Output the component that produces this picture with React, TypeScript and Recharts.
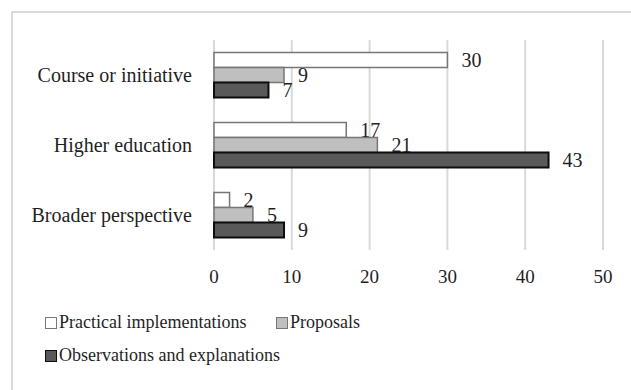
import React from 'react';
import { BarChart, Bar, XAxis, YAxis, CartesianGrid, LabelList } from 'recharts';

const categories = ['Course or initiative', 'Higher education', 'Broader perspective'];
const practical = [30, 17, 2];
const proposals = [9, 21, 5];
const observations = [7, 43, 9];
const xTicks = [0, 10, 20, 30, 40, 50];

const data = categories.map((name, i) => ({
  name,
  practical: practical[i],
  proposals: proposals[i],
  observations: observations[i],
}));

const font = '"Liberation Serif", "Times New Roman", serif';
const textColor = '#1f1f1f';

const series = [
  { key: 'practical', label: 'Practical implementations', fill: '#ffffff', stroke: '#767676' },
  { key: 'proposals', label: 'Proposals', fill: '#bfbfbf', stroke: '#767676' },
  { key: 'observations', label: 'Observations and explanations', fill: '#595959', stroke: '#0d0d0d' },
];

function LegendItem({ s, left, top }: { s: typeof series[number]; left: number; top: number }) {
  return (
    <div style={{ position: 'absolute', left, top, display: 'flex', alignItems: 'center', fontFamily: font, fontSize: 18, color: textColor, whiteSpace: 'nowrap' }}>
      <span style={{ display: 'inline-block', width: 10, height: 10, background: s.fill, border: `1px solid ${s.stroke}`, marginRight: 2 }} />
      {s.label}
    </div>
  );
}

export default function App() {
  return (
    <div style={{ position: 'absolute', left: 0, top: 0, width: 631, height: 390, overflow: 'hidden', background: '#fff', fontFamily: font }}>
      <div style={{ position: 'absolute', left: 11, top: 11, width: 660, height: 420, border: '2px solid #d9d9d9', boxSizing: 'border-box' }} />
      <div style={{ position: 'absolute', left: 0, top: 0 }}>
        <BarChart
          width={631}
          height={300}
          data={data}
          layout="vertical"
          margin={{ top: 40, right: 28, bottom: 0, left: 0 }}
          barCategoryGap="18%"
          barGap={0}
        >
          <CartesianGrid horizontal={false} stroke="#d9d9d9" strokeWidth={2} />
          <XAxis
            type="number"
            domain={[0, 50]}
            ticks={xTicks}
            axisLine={false}
            tickLine={false}
            height={50}
            tickMargin={14}
            tick={{ fontFamily: font, fontSize: 19, fill: textColor }}
          />
          <YAxis
            type="category"
            dataKey="name"
            width={214}
            axisLine={false}
            tickLine={false}
            tickMargin={16}
            tick={{ fontFamily: font, fontSize: 20, fill: textColor }}
          />
          {series.map((s) => (
            <Bar
              key={s.key}
              dataKey={s.key}
              name={s.label}
              fill={s.fill}
              stroke={s.stroke}
              strokeWidth={s.key === 'observations' ? 2 : 1.5}
              isAnimationActive={false}
            >
              <LabelList
                dataKey={s.key}
                position="right"
                offset={14}
                fontFamily={font}
                fontSize={20}
                fill={textColor}
              />
            </Bar>
          ))}
        </BarChart>
      </div>
      <LegendItem s={series[0]} left={45} top={312} />
      <LegendItem s={series[1]} left={276} top={312} />
      <LegendItem s={series[2]} left={45} top={345} />
    </div>
  );
}
